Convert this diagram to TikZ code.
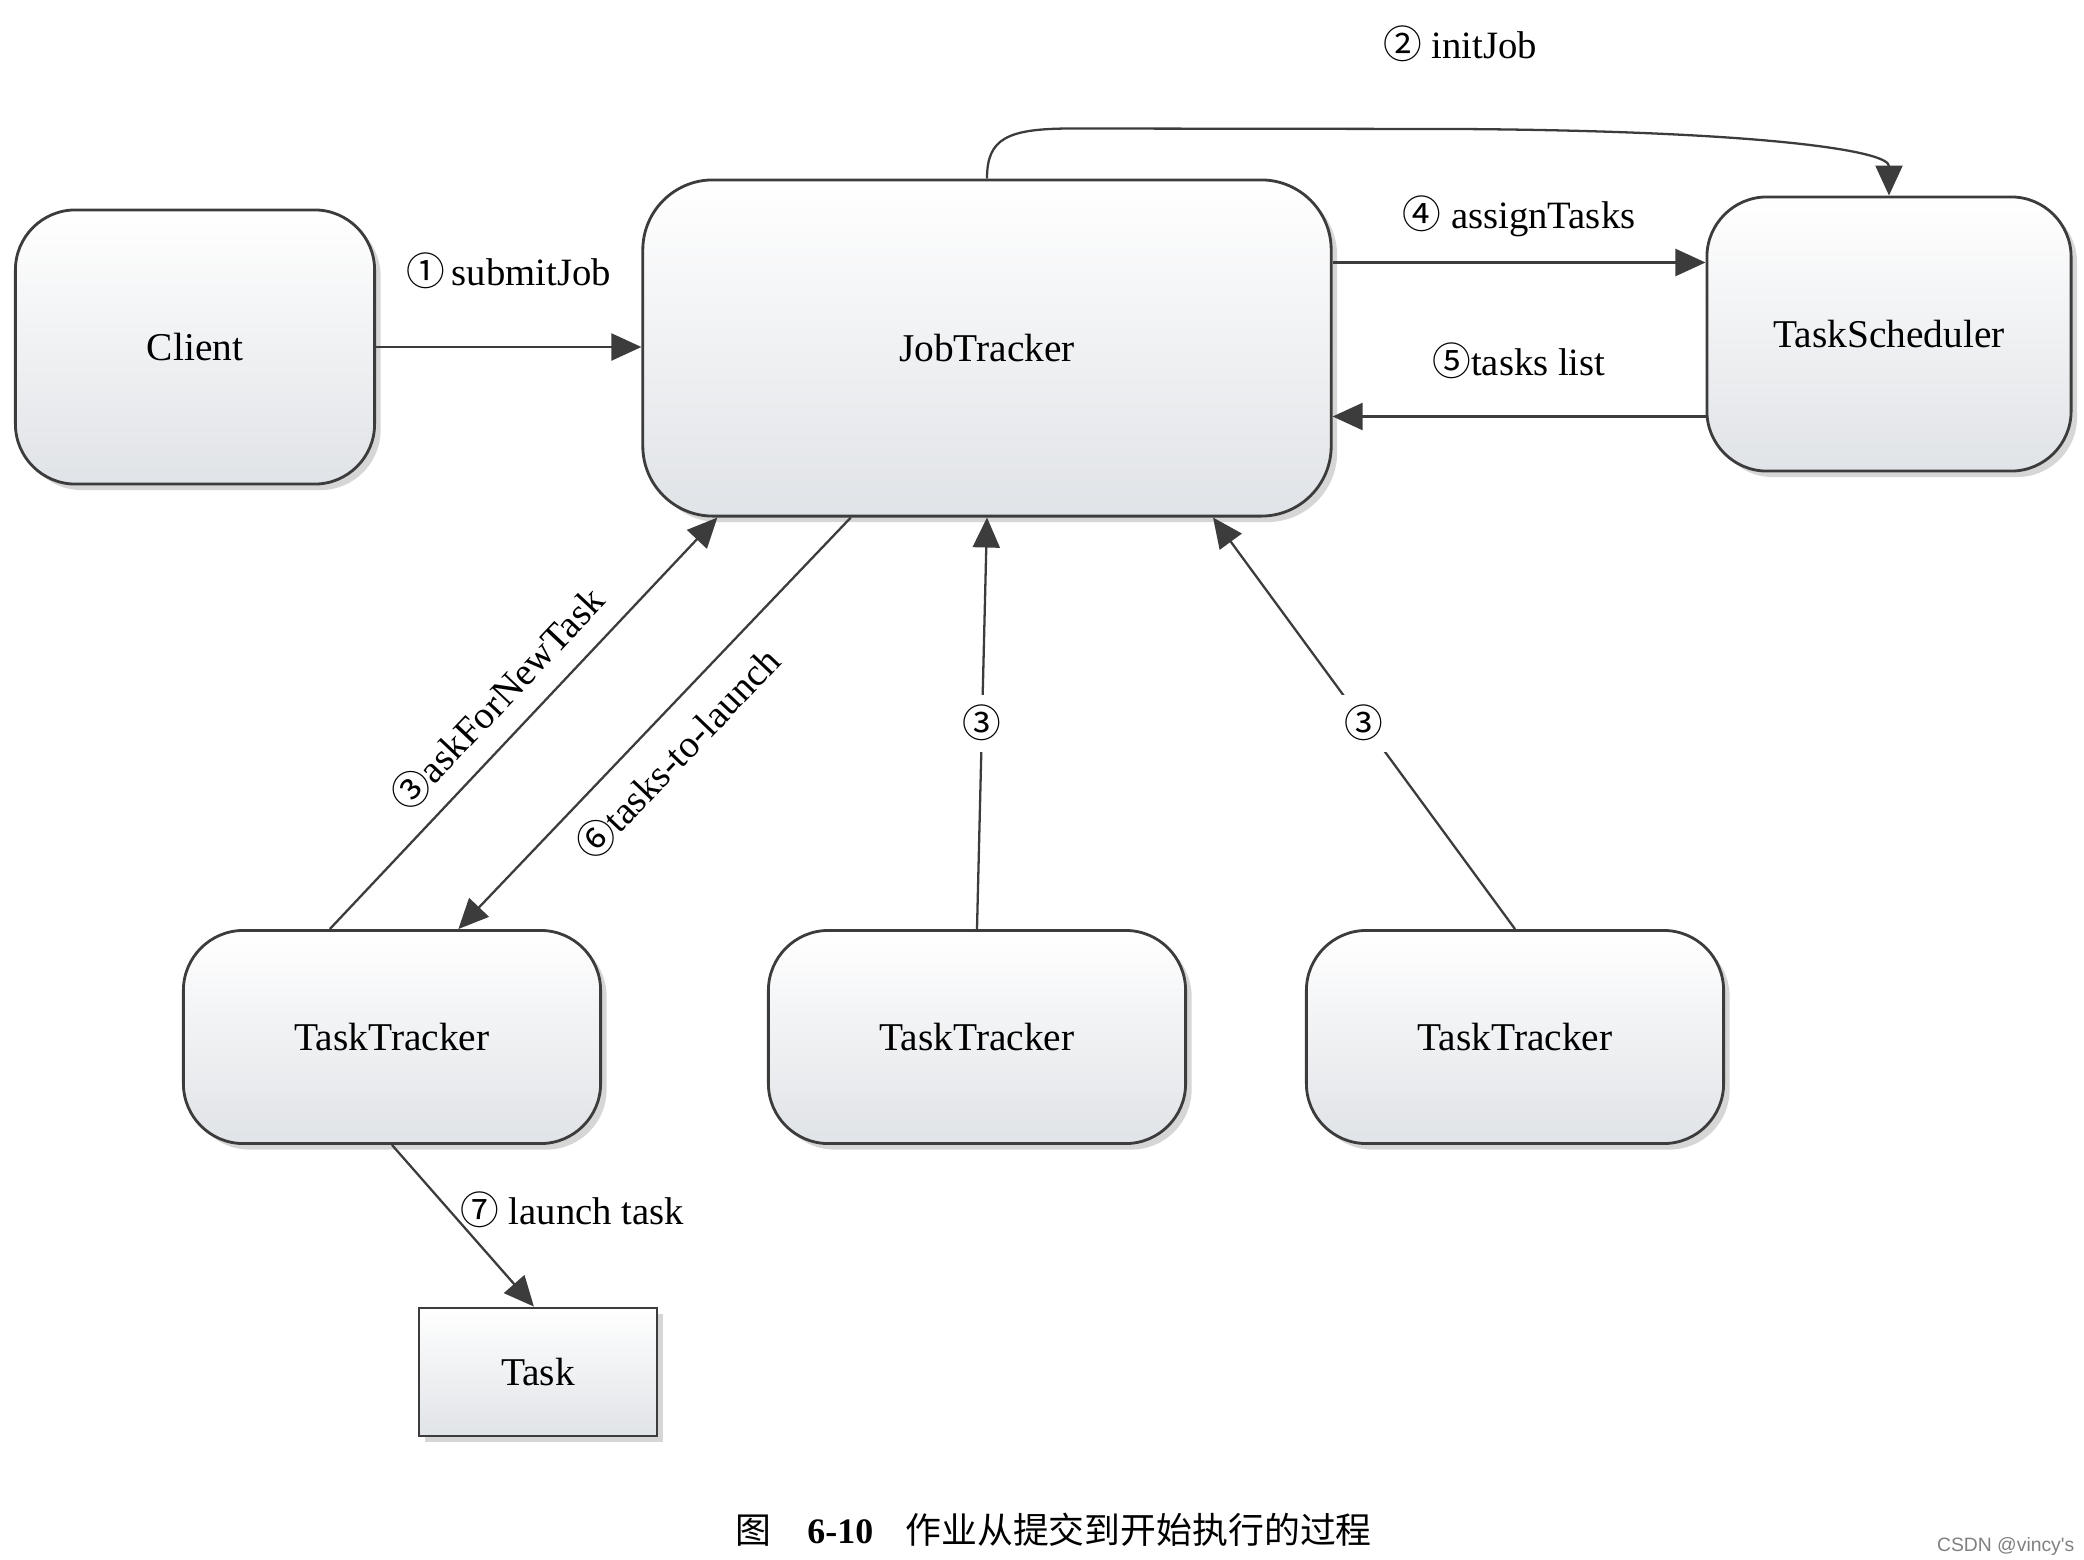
\documentclass[tikz,border=0pt]{standalone}
\usepackage{fontspec}
\setmainfont{Liberation Serif}
\newfontfamily\cjk{Noto Sans CJK SC}
\newfontfamily\wmfont{Liberation Sans}
\usetikzlibrary{arrows.meta,shadows,calc}
\definecolor{edgec}{RGB}{60,60,60}
\definecolor{botc}{RGB}{224,227,231}
\newcommand\circd[1]{{\cjk #1}}
\begin{document}
\begin{tikzpicture}[x=0.01cm,y=-0.01cm,
  box/.style={draw=edgec, line width=0.8pt, rounded corners=0.6cm, top color=white, bottom color=botc,
    drop shadow={shadow xshift=0.06cm, shadow yshift=-0.06cm, fill=black, opacity=0.16},
    font=\fontsize{11.2}{13}\selectfont, inner sep=0pt},
  arr/.style={draw=edgec, line width=0.65pt, -{Triangle[length=0.3cm,width=0.27cm]}},
  arrs/.style={draw=edgec, line width=0.65pt, {Triangle[length=0.3cm,width=0.27cm]}-},
  lbl/.style={font=\fontsize{11}{13}\selectfont, inner sep=1pt},
  ]
\useasboundingbox (0,0) rectangle (2084,1560);

% nodes
\node[box, minimum width=3.59cm, minimum height=2.74cm] (client) at (195,347) {Client};
\node[box, rounded corners=0.7cm, minimum width=6.88cm, minimum height=3.36cm] (jt) at (987,348) {JobTracker};
\node[box, minimum width=3.64cm, minimum height=2.74cm] (ts) at (1889,334) {TaskScheduler};
\node[box, minimum width=4.17cm, minimum height=2.13cm] (tt1) at (392,1037) {TaskTracker};
\node[box, minimum width=4.17cm, minimum height=2.13cm] (tt2) at (977,1037) {TaskTracker};
\node[box, minimum width=4.17cm, minimum height=2.13cm] (tt3) at (1515,1037) {TaskTracker};
\node[box, sharp corners, minimum width=2.38cm, minimum height=1.28cm] (task) at (538,1372) {Task};

% helper coordinates on node borders
\coordinate (a4) at ($(jt.north east)+(0,84)$);
\coordinate (a5) at ($(jt.north east)+(0,238)$);
\coordinate (j1) at ($(jt.south west)!0.11!(jt.south east)$);
\coordinate (j2) at ($(jt.south west)!0.303!(jt.south east)$);
\coordinate (j4) at ($(jt.south west)!0.827!(jt.south east)$);
\coordinate (t1a) at ($(tt1.north west)!0.352!(tt1.north east)$);
\coordinate (t1b) at ($(tt1.north west)!0.658!(tt1.north east)$);
\coordinate (tk) at ($(task.north west)!0.483!(task.north east)$);

% connectors
\draw[arr] (client.east) -- node[lbl, yshift=0.76cm]{\circd{①}\,submitJob} (client.east -| jt.west);

\draw[arr] (jt.north) .. controls ($(jt.north)+(0,-40)$) and ($(jt.north)+(20,-50)$) .. ($(jt.north)+(85,-50)$)
  -- node[lbl, pos=1, yshift=0.85cm]{\circd{②} initJob} (1460,129)
  .. controls (1760,131) and ($(ts.north)+(0,-45)$) .. (ts.north);

\draw[arr] (a4) -- node[lbl, yshift=0.46cm]{\circd{④} assignTasks} (a4 -| ts.west);
\draw[arr] (a5 -| ts.west) -- node[lbl, yshift=0.56cm]{\circd{⑤}tasks list} (a5);

\draw[arr] (t1a) -- node[lbl, sloped, above=4pt, pos=0.5]{\circd{③}askForNewTask} (j1);
\draw[arrs] (t1b) -- node[lbl, sloped, below=4pt, pos=0.49]{\circd{⑥}tasks-to-launch} (j2);

\draw[arr] (tt2.north) -- node[lbl, fill=white, inner sep=3pt]{\circd{③}} (jt.south);
\draw[arr] (tt3.north) -- node[lbl, fill=white, inner sep=3pt]{\circd{③}} (j4);

\draw[arr] (tt1.south) -- node[lbl, pos=0.4, anchor=west, xshift=2pt]{\circd{⑦} launch task} (tk);

% caption
\node[anchor=west, font=\fontsize{10.2}{12}\selectfont, inner sep=0pt] (cap) at (735,1530)
  {{\cjk 图}\hspace{1em}\textbf{6-10}\hspace{0.9em}{\cjk 作业从提交到开始执行的过程}};
\node[anchor=east, font=\wmfont\fontsize{5.5}{6}\selectfont, text=gray, inner sep=0pt] (wm) at (2075,1546) {CSDN @vincy's};
\end{tikzpicture}
\end{document}
